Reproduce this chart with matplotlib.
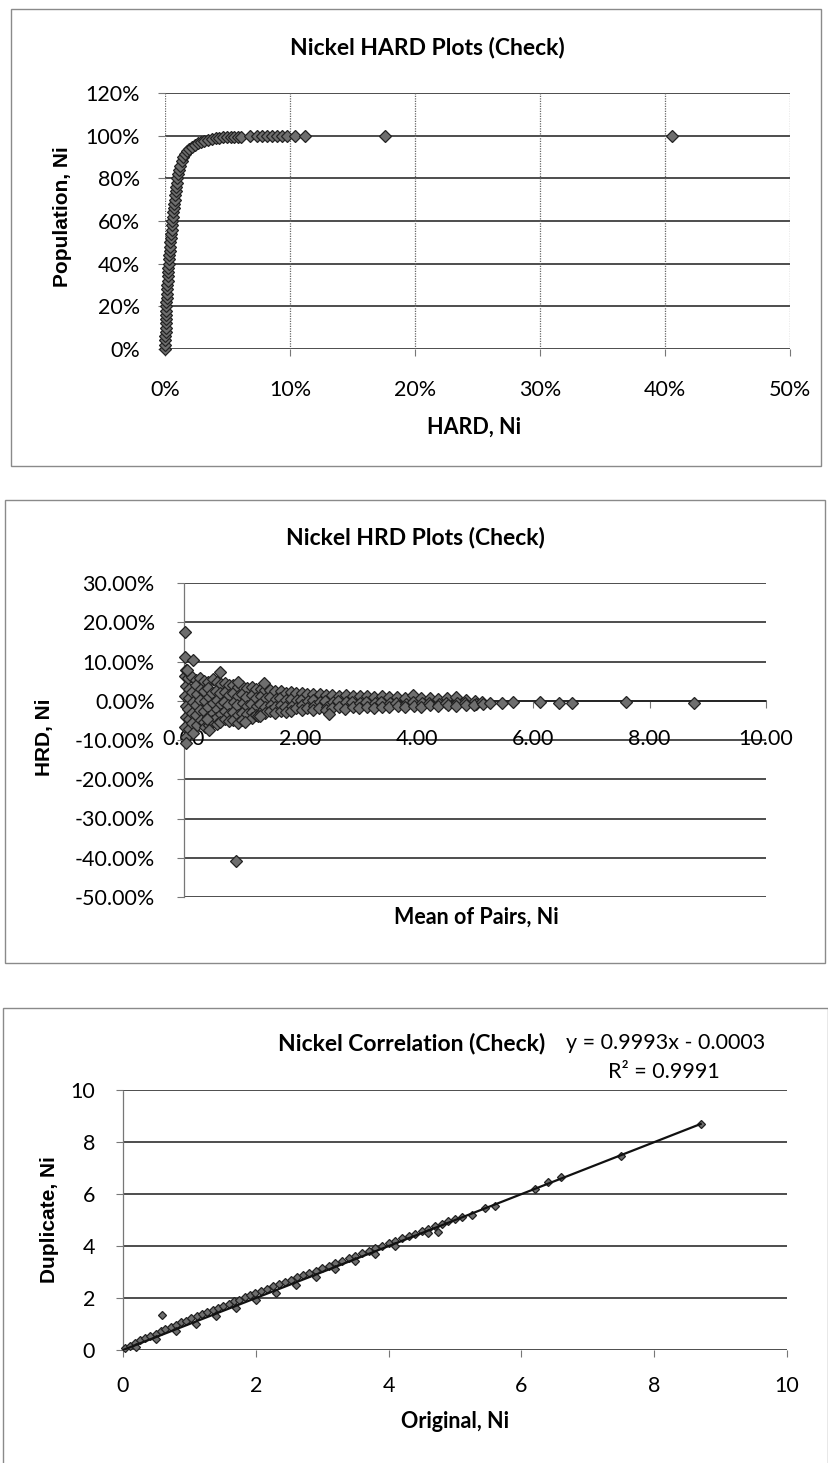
import matplotlib
matplotlib.use("Agg")
import matplotlib.pyplot as plt
from matplotlib.patches import Rectangle
from matplotlib.ticker import FuncFormatter

W, H, DPI = 829, 1463, 100

# ---------------- Nickel HARD plot: cumulative population vs HARD ----------------
hard_pct = [0.00, 0.02, 0.03, 0.04, 0.05, 0.05, 0.06, 0.07, 0.08, 0.09,
            0.10, 0.11, 0.13, 0.15, 0.17, 0.19, 0.21, 0.23, 0.25, 0.27,
            0.29, 0.32, 0.35, 0.38, 0.41, 0.44, 0.47, 0.50, 0.53, 0.56,
            0.60, 0.64, 0.68, 0.72, 0.76, 0.80, 0.84, 0.88, 0.92, 0.96,
            1.00, 1.06, 1.13, 1.22, 1.33, 1.47, 1.62, 1.78, 1.95, 2.15,
            2.38, 2.62, 2.88, 3.15, 3.45, 3.75, 4.05, 4.35, 4.65, 4.95,
            5.25, 5.55, 5.85, 6.10,
            6.8, 7.4, 7.8, 8.2, 8.6, 9.0, 9.4, 9.8, 10.4, 11.2, 17.6, 40.6]
population_pct = [0, 2, 4, 6, 8, 10, 12, 14, 16, 18,
                  20, 22, 24, 26, 28, 30, 32, 34, 36, 38,
                  40, 42, 44, 46, 48, 50, 52, 54, 56, 58,
                  60, 62, 64, 66, 68, 70, 72, 74, 76, 78,
                  80, 82, 84, 86, 88, 89.8, 91.3, 92.6, 93.7, 94.7,
                  95.6, 96.4, 97.1, 97.6, 98.1, 98.5, 98.8, 99.0, 99.2, 99.3,
                  99.4, 99.5, 99.55, 99.6,
                  99.65, 99.7, 99.7, 99.75, 99.75, 99.8, 99.8, 99.85, 99.85, 99.9, 99.9, 99.95]
hard_ticks = [0, 10, 20, 30, 40, 50]
population_ticks = [0, 20, 40, 60, 80, 100, 120]

# ---------------- Nickel HRD plot: HRD vs mean of pairs ----------------
mean_of_pairs = [
    0.02, 0.03, 0.02, 0.04, 0.03, 0.02, 0.04, 0.03,
    0.07, 0.09, 0.08, 0.07, 0.09, 0.08,
    0.14, 0.13, 0.15, 0.14, 0.13, 0.15,
    0.21, 0.20, 0.22, 0.21, 0.20, 0.22,
    0.27, 0.29, 0.28, 0.27, 0.29,
    0.35, 0.34, 0.36, 0.35, 0.34, 0.36,
    0.42, 0.41, 0.43, 0.42, 0.41, 0.43,
    0.49, 0.48, 0.50, 0.49, 0.48,
    0.56, 0.55, 0.57, 0.56, 0.55, 0.57,
    0.63, 0.62, 0.64, 0.63, 0.62,
    0.70, 0.71, 0.69, 0.70, 0.71,
    0.77, 0.78, 0.76, 0.77, 0.78,
    0.85, 0.84, 0.86, 0.85, 0.84,
    0.92, 0.93, 0.91, 0.92, 0.93,
    1.00, 0.99, 1.01, 1.00, 0.99,
    1.08, 1.07, 1.09, 1.08,
    1.16, 1.17, 1.15, 1.16, 1.17,
    1.24, 1.23, 1.25, 1.24,
    1.32, 1.33, 1.31, 1.32,
    1.40, 1.41, 1.39, 1.40,
    1.48, 1.47, 1.49, 1.48,
    1.57, 1.58, 1.56, 1.57,
    1.66, 1.65, 1.67, 1.66,
    1.75, 1.76, 1.74, 1.75,
    1.84, 1.83, 1.85, 1.84,
    1.93, 1.94, 1.92,
    2.02, 2.01, 2.03, 2.02,
    2.12, 2.13, 2.11,
    2.22, 2.21, 2.23, 2.22,
    2.33, 2.34, 2.32,
    2.44, 2.43, 2.45, 2.44,
    2.55, 2.56, 2.54,
    2.66, 2.65, 2.67,
    2.78, 2.79, 2.77,
    2.90, 2.89, 2.91,
    3.02, 3.03, 3.01,
    3.14, 3.13, 3.15,
    3.27, 3.28, 3.26,
    3.40, 3.39, 3.41,
    3.53, 3.54, 3.52,
    3.66, 3.65, 3.67,
    3.80, 3.81, 3.79,
    3.94, 3.93, 3.95,
    4.08, 4.09, 4.07,
    4.22, 4.21, 4.23,
    4.37, 4.38, 4.36,
    4.52, 4.51, 4.53,
    4.68, 4.69, 4.67,
    4.84, 4.83, 4.85,
    5.00, 5.01, 4.99,
    5.12, 5.13,
    5.25, 5.47, 5.65, 6.11, 6.44, 6.66, 7.60, 8.76,
    0.01, 0.02, 0.15, 0.03, 0.06, 0.62, 0.43, 0.40, 0.90,
    2.49, 1.28, 1.38, 0.93, 1.05, 1.30,
]
hrd_pct = [
    6.2, 3.8, 1.2, -1.4, -4.1, -6.6, -9.3, -10.8,
    5.7, 3.1, 0.6, -2.0, -4.6, -7.2,
    6.0, 2.3, -0.4, -3.1, -5.6, -8.1,
    5.4, 3.9, 1.6, -1.0, -3.6, -6.2,
    5.8, 2.9, 0.3, -2.4, -5.0,
    5.1, 2.6, 0.0, -2.7, -5.4, -6.8,
    4.9, 3.3, 0.9, -1.6, -4.1, -6.2,
    5.5, 2.1, -0.6, -3.1, -5.2,
    4.7, 2.5, 0.2, -2.2, -4.5, -5.9,
    4.3, 1.9, -0.8, -3.3, -5.5,
    4.5, 2.2, -0.2, -2.6, -4.7,
    3.9, 1.5, -1.0, -3.4, -5.1,
    4.1, 2.0, -0.4, -2.8, -5.0,
    3.6, 1.3, -1.2, -3.6, -5.7,
    3.7, 1.6, -0.7, -3.0, -4.8,
    3.3, 1.0, -1.3, -3.5,
    3.5, 1.4, -0.8, -2.9, -4.3,
    3.0, 0.8, -1.4, -3.6,
    3.1, 1.1, -0.9, -2.8,
    2.7, 0.6, -1.5, -3.2,
    2.8, 0.9, -1.0, -2.7,
    2.4, 0.4, -1.6, -3.0,
    2.5, 0.7, -1.1, -2.6,
    2.1, 0.2, -1.7, -2.9,
    2.3, 0.5, -1.3, -2.6,
    2.0, 0.1, -1.8,
    1.9, 0.3, -1.2, -2.4,
    1.7, -0.1, -1.9,
    1.8, 0.2, -1.4, -2.3,
    1.6, -0.2, -1.8,
    1.5, 0.0, -1.5, -2.4,
    1.4, -0.3, -1.9,
    1.3, -0.1, -1.6,
    1.5, -0.4, -2.0,
    1.2, -0.2, -1.5,
    1.1, -0.5, -1.8,
    1.3, -0.3, -1.6,
    1.0, -0.6, -1.9,
    1.1, -0.4, -1.5,
    0.9, -0.7, -1.7,
    1.0, -0.5, -1.4,
    0.8, -0.8, -1.6,
    1.4, -0.4, -1.3,
    0.7, -0.7, -1.5,
    0.6, -0.6, -1.2,
    0.5, -0.9, -1.4,
    0.7, -0.5, -1.1,
    1.0, -0.7, -1.3,
    0.3, -0.6, -1.0,
    0.0, -0.8, -1.1,
    -0.3, -0.9,
    -0.6, -0.5, -0.4, -0.3, -0.6, -0.7, -0.3, -0.5,
    17.6, 11.2, 10.4, 7.9, 7.9, 7.3, -7.4, -4.6, -40.8,
    -3.3, -4.0, 4.6, 4.8, -5.3, -4.0,
]
mean_ticks = [0, 2, 4, 6, 8, 10]
hrd_ticks = [30, 20, 10, 0, -10, -20, -30, -40, -50]

# ---------------- Nickel correlation: duplicate vs original ----------------
original_ni = [
    0.03, 0.10, 0.18, 0.26, 0.33, 0.41, 0.49, 0.57, 0.64, 0.72,
    0.80, 0.88, 0.95, 1.03, 1.11, 1.19, 1.27, 1.35, 1.43, 1.51,
    1.59, 1.67, 1.75, 1.83, 1.91, 1.99, 2.08, 2.17, 2.26, 2.35,
    2.44, 2.53, 2.62, 2.71, 2.80, 2.90, 3.00, 3.10, 3.20, 3.30,
    3.40, 3.50, 3.60, 3.70, 3.80, 3.90, 4.00, 4.10, 4.20, 4.30,
    4.40, 4.50, 4.60, 4.70, 4.80, 4.90, 5.00,
    0.20, 0.50, 0.80, 1.10, 1.40, 1.70, 2.00, 2.30, 2.60, 2.90,
    3.20, 3.50, 3.80, 4.10, 4.60, 4.75,
    5.10, 5.25, 5.45, 5.60, 6.20, 6.40, 6.60, 7.50, 8.70,
    0.58,
]
duplicate_ni = [
    0.07, 0.17, 0.27, 0.37, 0.45, 0.55, 0.63, 0.73, 0.80, 0.90,
    0.97, 1.07, 1.12, 1.22, 1.29, 1.38, 1.45, 1.54, 1.61, 1.70,
    1.77, 1.87, 1.94, 2.02, 2.10, 2.18, 2.27, 2.35, 2.45, 2.53,
    2.62, 2.70, 2.80, 2.87, 2.96, 3.05, 3.15, 3.24, 3.34, 3.43,
    3.53, 3.62, 3.72, 3.81, 3.91, 4.00, 4.10, 4.19, 4.29, 4.38,
    4.48, 4.57, 4.67, 4.76, 4.85, 4.95, 5.05,
    0.12, 0.42, 0.72, 1.00, 1.30, 1.60, 1.92, 2.20, 2.50, 2.80,
    3.10, 3.42, 3.70, 4.00, 4.50, 4.55,
    5.12, 5.20, 5.47, 5.52, 6.18, 6.45, 6.65, 7.47, 8.68,
    1.35,
]
fit_slope = 0.9993
fit_intercept = -0.0003
fit_r2 = 0.9991
ni_ticks = [0, 2, 4, 6, 8, 10]

# ---------------- styling ----------------
TICK_FONT = dict(family="Lato", size=15.5)
TITLE_FONT = dict(family="Lato", size=16.5, weight="bold")
XLABEL_FONT = dict(family="Lato", size=15.5, weight="bold")
YLABEL_FONT = dict(family="Liberation Sans", size=15, weight="bold")
GRID_DARK = dict(color="#1c1c1c", lw=1.1, zorder=1)
MARKER = dict(ls="none", marker="D", ms=6, mfc="#6e6e6e", mec="#222222",
              mew=0.9, zorder=3, clip_on=False)

fig = plt.figure(figsize=(W / DPI, H / DPI), dpi=DPI)
fig.patch.set_facecolor("white")


def axes_px(left, top, right, bottom):
    return fig.add_axes([left / W, 1 - bottom / H, (right - left) / W, (bottom - top) / H])


def text_px(x, y, s, **kw):
    fig.text(x / W, 1 - y / H, s, **kw)


def frame_px(left, top, right, bottom):
    fig.patches.append(Rectangle((left / W, 1 - bottom / H), (right - left) / W,
                                 (bottom - top) / H, transform=fig.transFigure,
                                 fill=False, ec="#8a8a8a", lw=1.0, zorder=0))


def style_ticks(ax, xpad, ypad):
    ax.tick_params(axis="x", length=5, width=0.8, color="#777777", pad=xpad,
                   direction="out")
    ax.tick_params(axis="y", length=5, width=0.8, color="#777777", pad=ypad,
                   direction="out")
    for lab in ax.get_xticklabels() + ax.get_yticklabels():
        lab.set_fontfamily(TICK_FONT["family"])
        lab.set_fontsize(TICK_FONT["size"])


# ---- panel 1 ----
frame_px(11, 9, 821, 466)
ax1 = axes_px(165, 93, 790, 349)
ax1.set_xlim(0, 50)
ax1.set_ylim(0, 120)
for s in ax1.spines.values():
    s.set_visible(False)
for y in population_ticks:
    ax1.axhline(y, **GRID_DARK)
for x in hard_ticks:
    ax1.axvline(x, color="#666666", lw=0.9, ls=(0, (1, 1)), zorder=1)
ax1.plot(hard_pct, population_pct, **MARKER)
ax1.set_xticks(hard_ticks)
ax1.set_yticks(population_ticks)
ax1.xaxis.set_major_formatter(FuncFormatter(lambda v, p: f"{v:.0f}%"))
ax1.yaxis.set_major_formatter(FuncFormatter(lambda v, p: f"{v:.0f}%"))
style_ticks(ax1, 17, 13)
text_px(427, 47, "Nickel HARD Plots (Check)", ha="center", va="center", **TITLE_FONT)
text_px(474, 427, "HARD, Ni", ha="center", va="center", **XLABEL_FONT)
text_px(63, 217, "Population, Ni", ha="center", va="center", rotation=90, **YLABEL_FONT)

# ---- panel 2 ----
frame_px(5, 500, 825, 963)
ax2 = axes_px(184, 583, 766, 897)
ax2.set_xlim(0, 10)
ax2.set_ylim(-50, 30)
for side in ("top", "right"):
    ax2.spines[side].set_visible(False)
ax2.spines["left"].set_color("#777777")
ax2.spines["left"].set_linestyle((0, (1, 1)))
ax2.spines["left"].set_linewidth(0.9)
ax2.spines["bottom"].set_position(("data", 0))
ax2.spines["bottom"].set_color("#1c1c1c")
ax2.spines["bottom"].set_linewidth(1.1)
for y in hrd_ticks:
    ax2.axhline(y, **GRID_DARK)
ax2.plot(mean_of_pairs, hrd_pct, **MARKER)
ax2.set_xticks(mean_ticks)
ax2.set_yticks(hrd_ticks)
ax2.xaxis.set_major_formatter(FuncFormatter(lambda v, p: f"{v:.2f}"))
ax2.yaxis.set_major_formatter(FuncFormatter(lambda v, p: f"{v:.2f}%"))
style_ticks(ax2, 15, 16)
text_px(415, 537, "Nickel HRD Plots (Check)", ha="center", va="center", **TITLE_FONT)
text_px(476, 917, "Mean of Pairs, Ni", ha="center", va="center", **XLABEL_FONT)
text_px(45, 737, "HRD, Ni", ha="center", va="center", rotation=90, **YLABEL_FONT)

# ---- panel 3 ----
frame_px(3, 1008, 828, 1480)
ax3 = axes_px(123, 1090, 787, 1350)
ax3.set_xlim(0, 10)
ax3.set_ylim(0, 10)
for side in ("top", "right", "bottom"):
    ax3.spines[side].set_visible(False)
ax3.spines["left"].set_color("#777777")
ax3.spines["left"].set_linestyle((0, (1, 1)))
ax3.spines["left"].set_linewidth(0.9)
for y in ni_ticks:
    ax3.axhline(y, **GRID_DARK)
ax3.plot(original_ni, duplicate_ni, **dict(MARKER, ms=4.5))
x_end = max(original_ni)
ax3.plot([0, x_end], [fit_intercept, fit_slope * x_end + fit_intercept],
         color="#111111", lw=1.6, zorder=4)
ax3.set_xticks(ni_ticks)
ax3.set_yticks(ni_ticks)
ax3.xaxis.set_major_formatter(FuncFormatter(lambda v, p: f"{v:.0f}"))
ax3.yaxis.set_major_formatter(FuncFormatter(lambda v, p: f"{v:.0f}"))
style_ticks(ax3, 14, 15)
text_px(278, 1043, "Nickel Correlation (Check)", ha="left", va="center", **TITLE_FONT)
text_px(566, 1043, f"y = {fit_slope:.4f}x - {abs(fit_intercept):.4f}",
        ha="left", va="center", **TICK_FONT)
text_px(608, 1072, f"R² = {fit_r2:.4f}", ha="left", va="center", **TICK_FONT)
text_px(455, 1422, "Original, Ni", ha="center", va="center", **XLABEL_FONT)
text_px(50, 1220, "Duplicate, Ni", ha="center", va="center", rotation=90, **YLABEL_FONT)

fig.savefig("out.png", dpi=DPI, facecolor="white")
